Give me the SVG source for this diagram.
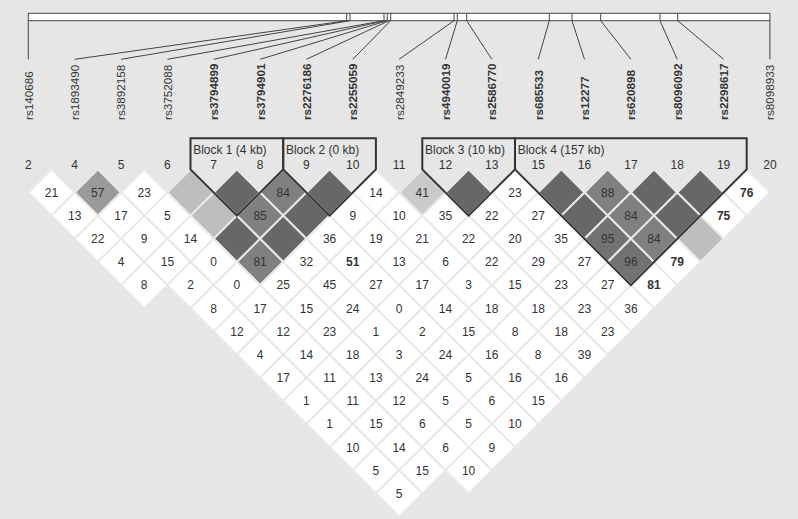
<svg xmlns="http://www.w3.org/2000/svg" xmlns:xlink="http://www.w3.org/1999/xlink" width="798" height="519" viewBox="0 0 798 519">
<style>
text{font-family:"Liberation Sans",Arial,sans-serif;fill:#333}
.n{font-size:12px;text-anchor:middle}
.b{font-weight:bold}
.lab{font-size:11.7px}
.blk{font-size:12px}
.w{fill:#fff}.D{fill:#676767}.m{fill:#808080}.m2{fill:#727272}.g57{fill:#9a9a9a}.g41{fill:#cacaca}.LG{fill:#bebebe}
use{stroke:#e9e9e9;stroke-width:2}
.ln{stroke:#444;stroke-width:1;fill:none}
.block{fill:none;stroke:#333;stroke-width:2;stroke-linejoin:miter}
</style>
<defs><path id="c" d="M0,-23.17L23.17,0L0,23.17L-23.17,0Z"/></defs>
<rect width="798" height="519" fill="#e6e6e6"/>
<g id="map">
<rect x="28.3" y="13.3" width="741.6" height="7.4" fill="#fff" stroke="#444" stroke-width="1"/>
<path class="ln" d="M346.7,13.3V20.7M350,13.3V20.7M384,13.3V20.7M387.3,13.3V20.7M390.7,13.3V20.7M454,13.3V20.7M457.3,13.3V20.7M466.7,13.3V20.7M549.3,13.3V20.7M572,13.3V20.7M600.7,13.3V20.7M660,13.3V20.7M677.7,13.3V20.7"/>
</g>
<g id="connectors">
<path class="ln" d="M28.3,20.7L28.3,59.3M346.7,20.7L74.7,59.3M350,20.7L121,59.3M384,20.7L167.4,59.3M385,20.7L213.7,59.3M387.3,20.7L260.1,59.3M389,20.7L306.4,59.3M390.7,20.7L352.8,59.3M454,20.7L399.1,59.3M457.3,20.7L445.5,59.3M466.7,20.7L491.8,59.3M549.3,20.7L538.2,59.3M572,20.7L584.5,59.3M600.7,20.7L630.9,59.3M660,20.7L677.2,59.3M677.7,20.7L723.6,59.3M769.9,20.7L769.9,59.3"/>
</g>
<g id="labels" class="lab">
<text transform="translate(32.7,120) rotate(-90)">rs140686</text>
<text transform="translate(79.1,120) rotate(-90)">rs1893490</text>
<text transform="translate(125.4,120) rotate(-90)">rs3892158</text>
<text transform="translate(171.8,120) rotate(-90)">rs3752088</text>
<text class="b" transform="translate(218.1,120) rotate(-90)">rs3794899</text>
<text class="b" transform="translate(264.5,120) rotate(-90)">rs3794901</text>
<text class="b" transform="translate(310.8,120) rotate(-90)">rs2276186</text>
<text class="b" transform="translate(357.2,120) rotate(-90)">rs2255059</text>
<text transform="translate(403.5,120) rotate(-90)">rs2849233</text>
<text class="b" transform="translate(449.9,120) rotate(-90)">rs4940019</text>
<text class="b" transform="translate(496.2,120) rotate(-90)">rs2586770</text>
<text class="b" transform="translate(542.6,120) rotate(-90)">rs685533</text>
<text class="b" transform="translate(588.9,120) rotate(-90)">rs12277</text>
<text class="b" transform="translate(635.3,120) rotate(-90)">rs620898</text>
<text class="b" transform="translate(681.6,120) rotate(-90)">rs8096092</text>
<text class="b" transform="translate(728,120) rotate(-90)">rs2298617</text>
<text transform="translate(774.3,120) rotate(-90)">rs8098933</text>
</g>
<g id="marker-numbers" class="n">
<text x="28.3" y="169">2</text><text x="74.7" y="169">4</text><text x="121" y="169">5</text><text x="167.4" y="169">6</text><text x="213.7" y="169">7</text><text x="260.1" y="169">8</text><text x="306.4" y="169">9</text><text x="352.8" y="169">10</text><text x="399.1" y="169">11</text><text x="445.5" y="169">12</text><text x="491.8" y="169">13</text><text x="538.2" y="169">15</text><text x="584.5" y="169">16</text><text x="630.9" y="169">17</text><text x="677.2" y="169">18</text><text x="723.6" y="169">19</text><text x="769.9" y="169">20</text>
</g>
<g id="cells">
<use href="#c" class="w" x="51.5" y="192.5"/><use href="#c" class="g57" x="97.8" y="192.5"/><use href="#c" class="w" x="144.2" y="192.5"/><use href="#c" class="LG" x="190.5" y="192.5"/><use href="#c" class="D" x="236.9" y="192.5"/><use href="#c" class="m" x="283.2" y="192.5"/><use href="#c" class="D" x="329.6" y="192.5"/><use href="#c" class="w" x="375.9" y="192.5"/><use href="#c" class="g41" x="422.3" y="192.5"/><use href="#c" class="D" x="468.6" y="192.5"/><use href="#c" class="w" x="515" y="192.5"/><use href="#c" class="D" x="561.3" y="192.5"/><use href="#c" class="m" x="607.7" y="192.5"/><use href="#c" class="D" x="654" y="192.5"/><use href="#c" class="D" x="700.4" y="192.5"/><use href="#c" class="w" x="746.7" y="192.5"/>
<use href="#c" class="w" x="74.7" y="215.65"/><use href="#c" class="w" x="121" y="215.65"/><use href="#c" class="w" x="167.4" y="215.65"/><use href="#c" class="LG" x="213.7" y="215.65"/><use href="#c" class="m" x="260.1" y="215.65"/><use href="#c" class="D" x="306.4" y="215.65"/><use href="#c" class="w" x="352.8" y="215.65"/><use href="#c" class="w" x="399.1" y="215.65"/><use href="#c" class="w" x="445.5" y="215.65"/><use href="#c" class="w" x="491.8" y="215.65"/><use href="#c" class="w" x="538.2" y="215.65"/><use href="#c" class="D" x="584.5" y="215.65"/><use href="#c" class="m" x="630.9" y="215.65"/><use href="#c" class="D" x="677.2" y="215.65"/><use href="#c" class="w" x="723.6" y="215.65"/>
<use href="#c" class="w" x="97.8" y="238.8"/><use href="#c" class="w" x="144.2" y="238.8"/><use href="#c" class="w" x="190.5" y="238.8"/><use href="#c" class="D" x="236.9" y="238.8"/><use href="#c" class="D" x="283.2" y="238.8"/><use href="#c" class="w" x="329.6" y="238.8"/><use href="#c" class="w" x="375.9" y="238.8"/><use href="#c" class="w" x="422.3" y="238.8"/><use href="#c" class="w" x="468.6" y="238.8"/><use href="#c" class="w" x="515" y="238.8"/><use href="#c" class="w" x="561.3" y="238.8"/><use href="#c" class="m2" x="607.7" y="238.8"/><use href="#c" class="m" x="654" y="238.8"/><use href="#c" class="LG" x="700.4" y="238.8"/>
<use href="#c" class="w" x="121" y="261.95"/><use href="#c" class="w" x="167.4" y="261.95"/><use href="#c" class="w" x="213.7" y="261.95"/><use href="#c" class="m" x="260.1" y="261.95"/><use href="#c" class="w" x="306.4" y="261.95"/><use href="#c" class="w" x="352.8" y="261.95"/><use href="#c" class="w" x="399.1" y="261.95"/><use href="#c" class="w" x="445.5" y="261.95"/><use href="#c" class="w" x="491.8" y="261.95"/><use href="#c" class="w" x="538.2" y="261.95"/><use href="#c" class="w" x="584.5" y="261.95"/><use href="#c" class="m2" x="630.9" y="261.95"/><use href="#c" class="w" x="677.2" y="261.95"/>
<use href="#c" class="w" x="144.2" y="285.1"/><use href="#c" class="w" x="190.5" y="285.1"/><use href="#c" class="w" x="236.9" y="285.1"/><use href="#c" class="w" x="283.2" y="285.1"/><use href="#c" class="w" x="329.6" y="285.1"/><use href="#c" class="w" x="375.9" y="285.1"/><use href="#c" class="w" x="422.3" y="285.1"/><use href="#c" class="w" x="468.6" y="285.1"/><use href="#c" class="w" x="515" y="285.1"/><use href="#c" class="w" x="561.3" y="285.1"/><use href="#c" class="w" x="607.7" y="285.1"/><use href="#c" class="w" x="654" y="285.1"/>
<use href="#c" class="w" x="213.7" y="308.25"/><use href="#c" class="w" x="260.1" y="308.25"/><use href="#c" class="w" x="306.4" y="308.25"/><use href="#c" class="w" x="352.8" y="308.25"/><use href="#c" class="w" x="399.1" y="308.25"/><use href="#c" class="w" x="445.5" y="308.25"/><use href="#c" class="w" x="491.8" y="308.25"/><use href="#c" class="w" x="538.2" y="308.25"/><use href="#c" class="w" x="584.5" y="308.25"/><use href="#c" class="w" x="630.9" y="308.25"/>
<use href="#c" class="w" x="236.9" y="331.4"/><use href="#c" class="w" x="283.2" y="331.4"/><use href="#c" class="w" x="329.6" y="331.4"/><use href="#c" class="w" x="375.9" y="331.4"/><use href="#c" class="w" x="422.3" y="331.4"/><use href="#c" class="w" x="468.6" y="331.4"/><use href="#c" class="w" x="515" y="331.4"/><use href="#c" class="w" x="561.3" y="331.4"/><use href="#c" class="w" x="607.7" y="331.4"/>
<use href="#c" class="w" x="260.1" y="354.55"/><use href="#c" class="w" x="306.4" y="354.55"/><use href="#c" class="w" x="352.8" y="354.55"/><use href="#c" class="w" x="399.1" y="354.55"/><use href="#c" class="w" x="445.5" y="354.55"/><use href="#c" class="w" x="491.8" y="354.55"/><use href="#c" class="w" x="538.2" y="354.55"/><use href="#c" class="w" x="584.5" y="354.55"/>
<use href="#c" class="w" x="283.2" y="377.7"/><use href="#c" class="w" x="329.6" y="377.7"/><use href="#c" class="w" x="375.9" y="377.7"/><use href="#c" class="w" x="422.3" y="377.7"/><use href="#c" class="w" x="468.6" y="377.7"/><use href="#c" class="w" x="515" y="377.7"/><use href="#c" class="w" x="561.3" y="377.7"/>
<use href="#c" class="w" x="306.4" y="400.85"/><use href="#c" class="w" x="352.8" y="400.85"/><use href="#c" class="w" x="399.1" y="400.85"/><use href="#c" class="w" x="445.5" y="400.85"/><use href="#c" class="w" x="491.8" y="400.85"/><use href="#c" class="w" x="538.2" y="400.85"/>
<use href="#c" class="w" x="329.6" y="424"/><use href="#c" class="w" x="375.9" y="424"/><use href="#c" class="w" x="422.3" y="424"/><use href="#c" class="w" x="468.6" y="424"/><use href="#c" class="w" x="515" y="424"/>
<use href="#c" class="w" x="352.8" y="447.15"/><use href="#c" class="w" x="399.1" y="447.15"/><use href="#c" class="w" x="445.5" y="447.15"/><use href="#c" class="w" x="491.8" y="447.15"/>
<use href="#c" class="w" x="375.9" y="470.3"/><use href="#c" class="w" x="422.3" y="470.3"/><use href="#c" class="w" x="468.6" y="470.3"/>
<use href="#c" class="w" x="399.1" y="493.45"/>
</g>
<g id="values" class="n">
<text x="51.5" y="196.8">21</text><text x="97.8" y="196.8">57</text><text x="144.2" y="196.8">23</text><text x="283.2" y="196.8">84</text><text x="375.9" y="196.8">14</text><text x="422.3" y="196.8">41</text><text x="515" y="196.8">23</text><text x="607.7" y="196.8">88</text><text class="b" x="746.7" y="196.8">76</text>
<text x="74.7" y="219.9">13</text><text x="121" y="219.9">17</text><text x="167.4" y="219.9">5</text><text x="260.1" y="219.9">85</text><text x="352.8" y="219.9">9</text><text x="399.1" y="219.9">10</text><text x="445.5" y="219.9">35</text><text x="491.8" y="219.9">22</text><text x="538.2" y="219.9">27</text><text x="630.9" y="219.9">84</text><text class="b" x="723.6" y="219.9">75</text>
<text x="97.8" y="243.1">22</text><text x="144.2" y="243.1">9</text><text x="190.5" y="243.1">14</text><text x="329.6" y="243.1">36</text><text x="375.9" y="243.1">19</text><text x="422.3" y="243.1">21</text><text x="468.6" y="243.1">22</text><text x="515" y="243.1">20</text><text x="561.3" y="243.1">35</text><text x="607.7" y="243.1">95</text><text x="654" y="243.1">84</text>
<text x="121" y="266.3">4</text><text x="167.4" y="266.3">15</text><text x="213.7" y="266.3">0</text><text x="260.1" y="266.3">81</text><text x="306.4" y="266.3">32</text><text class="b" x="352.8" y="266.3">51</text><text x="399.1" y="266.3">13</text><text x="445.5" y="266.3">6</text><text x="491.8" y="266.3">22</text><text x="538.2" y="266.3">29</text><text x="584.5" y="266.3">27</text><text x="630.9" y="266.3">96</text><text class="b" x="677.2" y="266.3">79</text>
<text x="144.2" y="289.4">8</text><text x="190.5" y="289.4">2</text><text x="236.9" y="289.4">0</text><text x="283.2" y="289.4">25</text><text x="329.6" y="289.4">45</text><text x="375.9" y="289.4">27</text><text x="422.3" y="289.4">17</text><text x="468.6" y="289.4">3</text><text x="515" y="289.4">15</text><text x="561.3" y="289.4">23</text><text x="607.7" y="289.4">27</text><text class="b" x="654" y="289.4">81</text>
<text x="213.7" y="312.6">8</text><text x="260.1" y="312.6">17</text><text x="306.4" y="312.6">15</text><text x="352.8" y="312.6">24</text><text x="399.1" y="312.6">0</text><text x="445.5" y="312.6">14</text><text x="491.8" y="312.6">18</text><text x="538.2" y="312.6">18</text><text x="584.5" y="312.6">23</text><text x="630.9" y="312.6">36</text>
<text x="236.9" y="335.7">12</text><text x="283.2" y="335.7">12</text><text x="329.6" y="335.7">23</text><text x="375.9" y="335.7">1</text><text x="422.3" y="335.7">2</text><text x="468.6" y="335.7">15</text><text x="515" y="335.7">8</text><text x="561.3" y="335.7">18</text><text x="607.7" y="335.7">23</text>
<text x="260.1" y="358.9">4</text><text x="306.4" y="358.9">14</text><text x="352.8" y="358.9">18</text><text x="399.1" y="358.9">3</text><text x="445.5" y="358.9">24</text><text x="491.8" y="358.9">16</text><text x="538.2" y="358.9">8</text><text x="584.5" y="358.9">39</text>
<text x="283.2" y="382">17</text><text x="329.6" y="382">11</text><text x="375.9" y="382">13</text><text x="422.3" y="382">24</text><text x="468.6" y="382">5</text><text x="515" y="382">16</text><text x="561.3" y="382">16</text>
<text x="306.4" y="405.2">1</text><text x="352.8" y="405.2">11</text><text x="399.1" y="405.2">12</text><text x="445.5" y="405.2">5</text><text x="491.8" y="405.2">6</text><text x="538.2" y="405.2">15</text>
<text x="329.6" y="428.3">1</text><text x="375.9" y="428.3">15</text><text x="422.3" y="428.3">6</text><text x="468.6" y="428.3">5</text><text x="515" y="428.3">10</text>
<text x="352.8" y="451.5">10</text><text x="399.1" y="451.5">14</text><text x="445.5" y="451.5">6</text><text x="491.8" y="451.5">9</text>
<text x="375.9" y="474.6">5</text><text x="422.3" y="474.6">15</text><text x="468.6" y="474.6">10</text>
<text x="399.1" y="497.8">5</text>
</g>
<g id="block1"><path class="block" d="M190.5,169.35V138.3H283.2V169.35L236.9,215.65Z"/><text class="blk" x="193.2" y="154">Block 1 (4 kb)</text></g>
<g id="block2"><path class="block" d="M283.2,169.35V138.3H375.9V169.35L329.6,215.65Z"/><text class="blk" x="285.9" y="154">Block 2 (0 kb)</text></g>
<g id="block3"><path class="block" d="M422.3,169.35V138.3H515V169.35L468.6,215.65Z"/><text class="blk" x="425" y="154">Block 3 (10 kb)</text></g>
<g id="block4"><path class="block" d="M515,169.35V138.3H746.7V169.35L630.9,285.1Z"/><text class="blk" x="517.7" y="154">Block 4 (157 kb)</text></g>
</svg>
